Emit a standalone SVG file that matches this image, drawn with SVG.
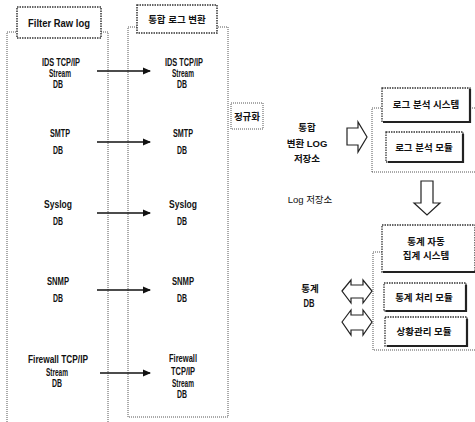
<svg xmlns="http://www.w3.org/2000/svg" width="475" height="422" viewBox="0 0 475 422">
<style>
text{font-family:"Liberation Sans","Noto Sans CJK KR",sans-serif;font-weight:bold;fill:#111;text-anchor:middle}
.t{font-size:10px}
.k{font-size:9.5px}
.dot{fill:none;stroke:#555;stroke-width:1;stroke-dasharray:1 1}
.lab{fill:#fff;stroke:#333;stroke-width:1.5;stroke-dasharray:1.5 1}
.box{fill:#fff;stroke:#333;stroke-width:1.3;stroke-dasharray:1.5 1}
.sh{fill:none;stroke:#222;stroke-width:2.2}
.hol{fill:#fff;stroke:#222;stroke-width:1.2}
.arr{stroke:#111;stroke-width:1.4;fill:none}
</style>
<defs>
<marker id="ah" markerWidth="8" markerHeight="8" refX="7" refY="4" orient="auto" markerUnits="userSpaceOnUse">
<path d="M0,0.5 L8,4 L0,7.5 Z" fill="#111"/>
</marker>
</defs>

<g id="col-raw">
<path class="dot" d="M7,422 V32 H108 V422"/>
<rect class="lab" x="17" y="7" width="84" height="31"/>
<text class="t" x="59" y="27" textLength="62" lengthAdjust="spacingAndGlyphs">Filter Raw log</text>
</g>
<g id="col-conv">
<rect class="dot" x="128" y="27" width="100" height="390"/>
<rect class="lab" x="137" y="5" width="80" height="28"/>
<text class="k" x="177" y="23">통합 로그 변환</text>
</g>

<g id="raw-ids"><text class="t" x="61" y="66" textLength="38" lengthAdjust="spacingAndGlyphs">IDS TCP/IP</text><text class="t" x="60" y="77" textLength="22" lengthAdjust="spacingAndGlyphs">Stream</text><text class="t" x="58" y="88" textLength="10" lengthAdjust="spacingAndGlyphs">DB</text></g>
<g id="raw-smtp"><text class="t" x="60" y="137" textLength="20" lengthAdjust="spacingAndGlyphs">SMTP</text><text class="t" x="58" y="154" textLength="10" lengthAdjust="spacingAndGlyphs">DB</text></g>
<g id="raw-syslog"><text class="t" x="58" y="208" textLength="28" lengthAdjust="spacingAndGlyphs">Syslog</text><text class="t" x="58" y="225" textLength="10" lengthAdjust="spacingAndGlyphs">DB</text></g>
<g id="raw-snmp"><text class="t" x="58" y="285" textLength="22" lengthAdjust="spacingAndGlyphs">SNMP</text><text class="t" x="58" y="302" textLength="10" lengthAdjust="spacingAndGlyphs">DB</text></g>
<g id="raw-fw"><text class="t" x="58" y="363" textLength="60" lengthAdjust="spacingAndGlyphs">Firewall TCP/IP</text><text class="t" x="57" y="376" textLength="22" lengthAdjust="spacingAndGlyphs">Stream</text><text class="t" x="57" y="387" textLength="10" lengthAdjust="spacingAndGlyphs">DB</text></g>

<g id="cv-ids"><text class="t" x="184" y="66" textLength="38" lengthAdjust="spacingAndGlyphs">IDS TCP/IP</text><text class="t" x="183" y="77" textLength="22" lengthAdjust="spacingAndGlyphs">Stream</text><text class="t" x="182" y="88" textLength="10" lengthAdjust="spacingAndGlyphs">DB</text></g>
<g id="cv-smtp"><text class="t" x="183" y="137" textLength="20" lengthAdjust="spacingAndGlyphs">SMTP</text><text class="t" x="182" y="154" textLength="10" lengthAdjust="spacingAndGlyphs">DB</text></g>
<g id="cv-syslog"><text class="t" x="183" y="208" textLength="28" lengthAdjust="spacingAndGlyphs">Syslog</text><text class="t" x="182" y="225" textLength="10" lengthAdjust="spacingAndGlyphs">DB</text></g>
<g id="cv-snmp"><text class="t" x="183" y="285" textLength="22" lengthAdjust="spacingAndGlyphs">SNMP</text><text class="t" x="182" y="302" textLength="10" lengthAdjust="spacingAndGlyphs">DB</text></g>
<g id="cv-fw"><text class="t" x="183" y="362" textLength="28" lengthAdjust="spacingAndGlyphs">Firewall</text><text class="t" x="183" y="375" textLength="24" lengthAdjust="spacingAndGlyphs">TCP/IP</text><text class="t" x="183" y="387" textLength="22" lengthAdjust="spacingAndGlyphs">Stream</text><text class="t" x="182" y="398" textLength="10" lengthAdjust="spacingAndGlyphs">DB</text></g>

<g id="normalize">
<rect class="dot" x="231" y="103" width="32" height="26"/>
<text class="k" x="247" y="120">정규화</text>
</g>
<g id="store">
<text class="k" x="307" y="131">통합</text>
<text class="k" x="307" y="147">변환 LOG</text>
<text class="k" x="307" y="162">저장소</text>
</g>
<g id="logstore"><text class="k" x="310" y="203" style="font-weight:normal">Log 저장소</text></g>
<g id="statdb"><text class="k" x="310" y="292">통계</text><text class="t" x="309" y="307" textLength="11" lengthAdjust="spacingAndGlyphs">DB</text></g>

<g id="log-analysis">
<path class="dot" d="M372,172 V108 H382 M470,108 H475 M372,172 H475"/>
<rect class="box" x="382" y="88" width="88" height="34"/>
<path class="sh" d="M470,89 V122 H383"/>
<text class="k" x="426" y="108">로그 분석 시스템</text>
<rect class="box" x="386" y="132" width="77" height="30"/>
<path class="sh" d="M463,134 V162 H388"/>
<text class="k" x="424" y="151">로그 분석 모듈</text>
</g>

<g id="stat-system">
<path class="dot" d="M382,252 H373 V350 H475"/>
<rect class="box" x="382" y="225" width="93" height="47"/>
<path class="sh" d="M383,272 H475"/>
<text class="k" x="426" y="245">통계 자동</text>
<text class="k" x="426" y="259">집계 시스템</text>
<rect class="box" x="384" y="283" width="82" height="28"/>
<path class="sh" d="M466,285 V311 H386"/>
<text class="k" x="424" y="301">통계 처리 모듈</text>
<rect class="box" x="385" y="317" width="82" height="29"/>
<path class="sh" d="M467,319 V346 H387"/>
<text class="k" x="424" y="335">상황관리 모듈</text>
</g>

<g id="connectors">
<line class="arr" x1="97" y1="71" x2="150" y2="71" marker-end="url(#ah)"/>
<line class="arr" x1="97" y1="142" x2="150" y2="142" marker-end="url(#ah)"/>
<line class="arr" x1="97" y1="213" x2="150" y2="213" marker-end="url(#ah)"/>
<line class="arr" x1="97" y1="290" x2="150" y2="290" marker-end="url(#ah)"/>
<line class="arr" x1="100" y1="373" x2="150" y2="373" marker-end="url(#ah)"/>
<path class="hol" d="M347,128 H358 V122 L367,137 L358,152 V145 H347 Z"/>
<path class="hol" d="M421,181 H433 V203 H440 L427,215 L414,203 H421 Z"/>
<path class="hol" d="M342,291 L351,280 V285 H363 V280 L372,291 L363,303 V298 H351 V303 Z"/>
<path class="hol" d="M342,322 L351,310 V315 H363 V310 L372,322 L363,335 V330 H351 V335 Z"/>
</g>
</svg>
